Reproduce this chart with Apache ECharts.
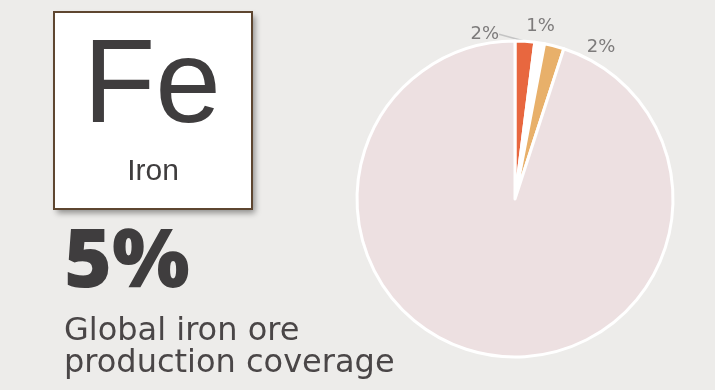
<!DOCTYPE html>
<html>
<head>
<meta charset="utf-8">
<script src="https://cdn.jsdelivr.net/npm/echarts@6/dist/echarts.min.js"></script>
<style>
  html, body { margin: 0; padding: 0; background: #edecea; }
  #chart { width: 715px; height: 390px; }
</style>
</head>
<body>
<div id="chart"></div>
<script>
// Share of global iron ore production, by segment (percent)
const segmentNames = ['Segment A', 'Segment B', 'Segment C', 'Other'];
const segmentShares = [2, 1, 2, 95];
const segmentColors = ['#e8673f', '#ffffff', '#e8b06a', '#ede0e1'];
const showLabel = [true, true, true, false];
const showLeader = [true, false, false, false];
// Nudges applied to the outside labels so the three small slices stay readable
const labelNudge = [[-60, 3], [-20, -7], [25, 11], [0, 0]];

// Headline figures
const elementSymbol = 'Fe';
const elementName = 'Iron';
const headlineValue = '5%';
const headlineCaption = ['Global iron ore', 'production coverage'];

const chart = echarts.init(document.getElementById('chart'), null, { renderer: 'canvas' });

const pieData = segmentNames.map((name, i) => ({
  name: name,
  value: segmentShares[i],
  itemStyle: { color: segmentColors[i] },
  label: { show: showLabel[i] },
  labelLine: { show: showLeader[i] }
}));

function textEl(x, y, text, size, family, weight, color, align) {
  return {
    type: 'text',
    x: x, y: y,
    style: {
      text: text,
      fontSize: size,
      fontFamily: family,
      fontWeight: weight,
      fill: color,
      textAlign: align,
      textVerticalAlign: 'middle'
    }
  };
}

chart.setOption({
  backgroundColor: '#edecea',
  animation: false,
  graphic: [
    {
      type: 'rect',
      shape: { x: 54, y: 12, width: 198, height: 197 },
      style: {
        fill: '#ffffff',
        shadowBlur: 6,
        shadowOffsetX: 3,
        shadowOffsetY: 4,
        shadowColor: 'rgba(0,0,0,0.4)'
      }
    },
    {
      type: 'rect',
      shape: { x: 54, y: 12, width: 198, height: 197 },
      style: { fill: 'none', stroke: '#5e4630', lineWidth: 2 }
    },
    textEl(152, 89, elementSymbol, 118, 'Liberation Sans', 'normal', '#3f3d3e', 'center'),
    textEl(153, 172, elementName, 30, 'Liberation Sans', 'normal', '#3f3d3e', 'center'),
    textEl(64, 264, headlineValue, 82, 'Open Sans', 800, '#3f3d3e', 'left'),
    textEl(64, 332, headlineCaption[0], 32, 'DejaVu Sans', 'normal', '#4a4647', 'left'),
    textEl(64, 364, headlineCaption[1], 32, 'DejaVu Sans', 'normal', '#4a4647', 'left')
  ],
  series: [
    {
      type: 'pie',
      center: [515, 199],
      radius: [0, 158],
      startAngle: 90,
      clockwise: true,
      avoidLabelOverlap: false,
      itemStyle: { borderColor: '#ffffff', borderWidth: 3 },
      label: {
        position: 'outside',
        formatter: p => p.value + '%',
        color: '#7d7b7b',
        fontSize: 18,
        fontFamily: 'DejaVu Sans'
      },
      labelLine: {
        length: 10,
        length2: 0,
        lineStyle: { color: '#c4c4c4', width: 1.5 }
      },
      labelLayout: function (params) {
        const n = labelNudge[params.dataIndex];
        return {
          x: params.labelRect.x + n[0],
          y: params.labelRect.y + n[1],
          align: 'left',
          verticalAlign: 'top',
          hideOverlap: false,
          moveOverlap: null
        };
      },
      emphasis: { disabled: true },
      data: pieData
    }
  ]
});
</script>
</body>
</html>
